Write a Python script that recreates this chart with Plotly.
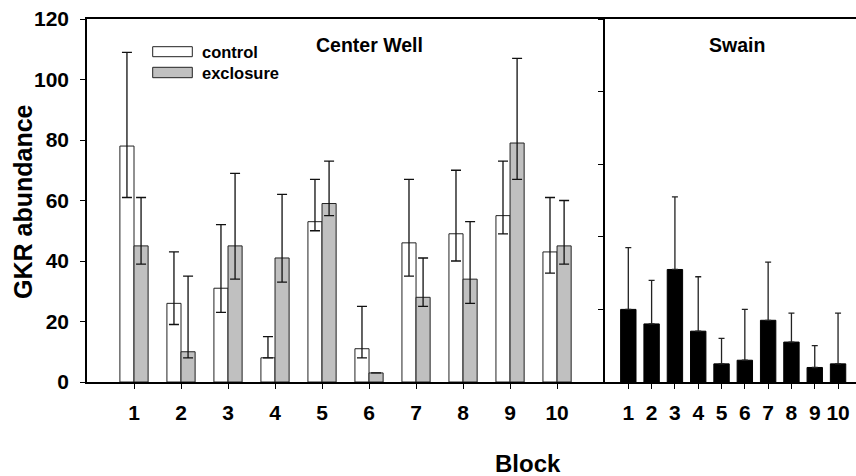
import plotly.graph_objects as go

# ---- data ----
blocks = [1, 2, 3, 4, 5, 6, 7, 8, 9, 10]
block_labels = ["1", "2", "3", "4", "5", "6", "7", "8", "9", "10"]

control = [78, 26, 31, 8, 53, 11, 46, 49, 55, 43]
control_hi = [109, 43, 52, 15, 67, 25, 67, 70, 73, 61]
control_lo = [61, 19, 23, 8, 50, 8, 35, 40, 49, 36]

exclosure = [45, 10, 45, 41, 59, 3, 28, 34, 79, 45]
exclosure_hi = [61, 35, 69, 62, 73, 3, 41, 53, 107, 60]
exclosure_lo = [39, 8, 34, 33, 55, 3, 25, 26, 67, 39]

swain = [20, 16, 31, 14, 5, 6, 17, 11, 4, 5]
swain_hi = [37, 28, 51, 29, 12, 20, 33, 19, 10, 19]

y_ticks = [0, 20, 40, 60, 80, 100, 120]

# ---- layout geometry ----
W, H = 856, 476
ML, MR, MT, MB = 87, 0, 19, 94
PW = W - ML - MR
PH = H - MT - MB
SPLIT = 605


def px(x):
    return (x - ML) / PW


def py(y):
    return (H - MB - y) / PH


FONT = "Liberation Sans, Arial, sans-serif"
split = px(SPLIT)

fig = go.Figure()

fig.add_trace(go.Bar(
    x=blocks, y=control, name="control",
    marker=dict(color="white", line=dict(color="#222", width=1)),
    error_y=dict(type="data", symmetric=False,
                 array=[h - v for h, v in zip(control_hi, control)],
                 arrayminus=[v - l for v, l in zip(control, control_lo)],
                 color="#111", thickness=1.3, width=5),
    xaxis="x", yaxis="y", showlegend=False,
))
fig.add_trace(go.Bar(
    x=blocks, y=exclosure, name="exclosure",
    marker=dict(color="#c0c0c0", line=dict(color="#222", width=1)),
    error_y=dict(type="data", symmetric=False,
                 array=[h - v for h, v in zip(exclosure_hi, exclosure)],
                 arrayminus=[v - l for v, l in zip(exclosure, exclosure_lo)],
                 color="#111", thickness=1.3, width=5),
    xaxis="x", yaxis="y", showlegend=False,
))
fig.add_trace(go.Bar(
    x=blocks, y=swain, name="Swain", width=0.66,
    marker=dict(color="black", line=dict(color="black", width=1)),
    error_y=dict(type="data", symmetric=False,
                 array=[h - v for h, v in zip(swain_hi, swain)],
                 arrayminus=[0] * len(swain),
                 color="#222", thickness=1.3, width=3),
    xaxis="x2", yaxis="y2", showlegend=False,
))

tickfont = dict(family=FONT, size=21, color="black", weight="bold")
axis_common = dict(showline=True, linecolor="black", linewidth=1.5,
                   ticks="outside", ticklen=5, tickcolor="black", tickwidth=1,
                   showgrid=False, zeroline=False, automargin=False)

fig.update_layout(
    width=W, height=H,
    margin=dict(l=ML, r=MR, t=MT, b=MB),
    paper_bgcolor="white", plot_bgcolor="white",
    barmode="group", bargap=0.4, bargroupgap=0,
    font=dict(family=FONT, color="black"),
    xaxis=dict(domain=[0, split], range=[0, 11.02], tickvals=blocks,
               ticktext=block_labels, tickfont=tickfont, mirror=True,
               ticklabelstandoff=6, **axis_common),
    yaxis=dict(domain=[0, 1], range=[0, 120], tickvals=y_ticks,
               tickfont=tickfont, mirror=False, ticklabelstandoff=7,
               **axis_common),
    xaxis2=dict(domain=[split, 1], range=[0, 10.77], tickvals=blocks,
                ticktext=block_labels, tickfont=tickfont, mirror=True,
                anchor="y2", ticklabelstandoff=6, **axis_common),
    yaxis2=dict(domain=[0, 1], range=[0, 100], dtick=20,
                showticklabels=False, anchor="x2", mirror=False,
                **axis_common),
)

# legend (drawn)
legend_items = [("control", "white", 46.7, 56.7, 52),
                ("exclosure", "#c0c0c0", 67.3, 77.7, 73)]
for name, col, y0, y1, yc in legend_items:
    fig.add_shape(type="rect", xref="paper", yref="paper",
                  x0=px(152.7), x1=px(192.3), y0=py(y1), y1=py(y0),
                  fillcolor=col, line=dict(color="#222", width=1))
    fig.add_annotation(x=px(200), y=py(yc), xref="paper", yref="paper",
                       text=name, showarrow=False, xanchor="left",
                       yanchor="middle",
                       font=dict(family=FONT, size=16.5, color="black",
                                 weight="bold"))

# panel titles
fig.add_annotation(x=px(369), y=py(45), xref="paper", yref="paper",
                   text="Center Well", showarrow=False, xanchor="center",
                   yanchor="middle",
                   font=dict(family=FONT, size=19.5, color="black", weight="bold"))
fig.add_annotation(x=px(737), y=py(45), xref="paper", yref="paper",
                   text="Swain", showarrow=False, xanchor="center",
                   yanchor="middle",
                   font=dict(family=FONT, size=19.5, color="black", weight="bold"))

# axis titles
fig.add_annotation(x=px(23), y=py(202), xref="paper", yref="paper",
                   text="GKR abundance", showarrow=False, textangle=-90,
                   xanchor="center", yanchor="middle",
                   font=dict(family=FONT, size=25, color="black", weight="bold"))
fig.add_annotation(x=px(528), y=py(463), xref="paper", yref="paper",
                   text="Block", showarrow=False, xanchor="center",
                   yanchor="middle",
                   font=dict(family=FONT, size=24, color="black", weight="bold"))

fig.write_html("out.html")
